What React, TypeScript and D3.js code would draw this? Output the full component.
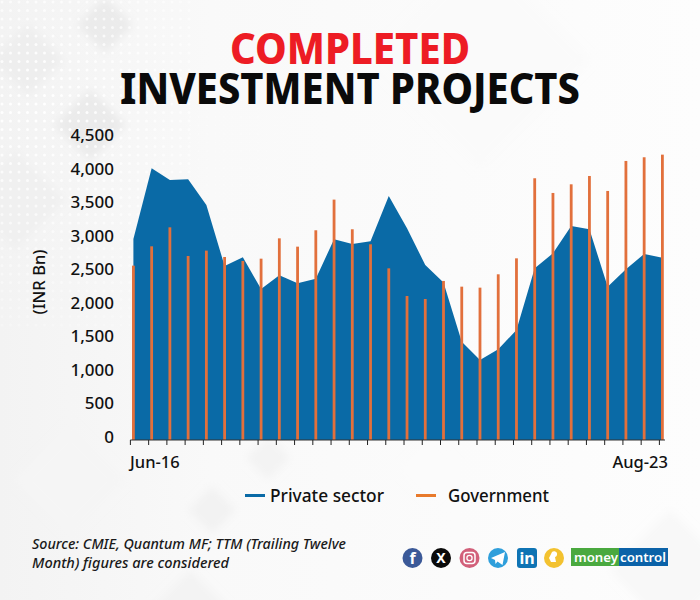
import React from "react";
import * as d3 from "d3";

const titleTop = "COMPLETED";
const titleBottom = "INVESTMENT PROJECTS";
const yTicks = [0, 500, 1000, 1500, 2000, 2500, 3000, 3500, 4000, 4500];
const periods = [
  "Jun-16","Sep-16","Dec-16","Mar-17","Jun-17","Sep-17","Dec-17","Mar-18","Jun-18","Sep-18",
  "Dec-18","Mar-19","Jun-19","Sep-19","Dec-19","Mar-20","Jun-20","Sep-20","Dec-20","Mar-21",
  "Jun-21","Sep-21","Dec-21","Mar-22","Jun-22","Sep-22","Dec-22","Mar-23","Jun-23","Aug-23",
];
const privateSector = [
  2995,4049,3875,3885,3502,2593,2722,2250,2454,2335,
  2404,2990,2921,2961,3636,3154,2608,2345,1465,1192,
  1351,1639,2558,2782,3189,3140,2285,2543,2772,2717,
];
const government = [
  2598,2886,3169,2742,2822,2727,2668,2702,3005,2881,
  3125,3582,3140,2916,2558,2146,2101,2370,2285,2270,
  2469,2707,3900,3681,3810,3934,3711,4158,4213,4252,
];
const sourceLines = [
  "Source: CMIE, Quantum MF; TTM (Trailing Twelve",
  "Month) figures are considered",
];
const bgDiamonds: [number, number, number, string][] = [
  [105, 25, 28, "#ebebeb"], [28, 60, 36, "#eeeeee"], [90, 125, 36, "#ebebeb"], [15, 200, 50, "#f0f0f0"],
  [70, 480, 55, "#f5f5f5"], [212, 510, 24, "#f2f2f2"], [268, 458, 22, "#f3f3f3"], [190, 610, 40, "#f3f3f3"],
  [480, 60, 110, "#fafafa"], [430, 470, 30, "#fbfbfb"], [670, 570, 60, "#f8f8f8"],
];

const FONT = "'Noto Sans', 'Open Sans', sans-serif";
const BLUE = "#0a6aa6";
const ORANGE = "#e2703c";

export default function App() {
  const x = d3.scalePoint<string>().domain(periods).range([133.4, 662.4]);
  const y = d3.scaleLinear().domain([0, 4500]).range([440, 138]);
  const area = d3.area<number>()
    .x((_, i) => x(periods[i]) as number)
    .y0(y(0))
    .y1((d) => y(d));
  const tickOffset = -3;

  const dots: [number, number][] = [];
  d3.range(0, 190, 8.5).forEach((a) => d3.range(0, 330, 8.5).forEach((b) => dots.push([a, b])));

  return (
    <svg width={700} height={600} viewBox="0 0 700 600" style={{ position: "absolute", left: 0, top: 0 }}>
      <defs>
        <linearGradient id="bg" x1="0" y1="0" x2="1" y2="0">
          <stop offset="0" stopColor="#f3f3f3" />
          <stop offset="0.3" stopColor="#f9f9f9" />
          <stop offset="1" stopColor="#fdfdfd" />
        </linearGradient>
        <radialGradient id="fade" cx="0.1" cy="0.3" r="0.9">
          <stop offset="0" stopColor="#fff" stopOpacity="1" />
          <stop offset="1" stopColor="#fff" stopOpacity="0" />
        </radialGradient>
        <mask id="dotMask">
          <rect width={400} height={340} fill="url(#fade)" />
        </mask>
        <filter id="soft" x="-20%" y="-20%" width="140%" height="140%">
          <feGaussianBlur stdDeviation="4" />
        </filter>
      </defs>
      <rect width={700} height={600} fill="url(#bg)" />
      <g filter="url(#soft)">
        {bgDiamonds.map(([cx, cy, r, c], i) => (
          <path key={i} d={`M${cx - r},${cy}L${cx},${cy - r}L${cx + r},${cy}L${cx},${cy + r}Z`} fill={c} />
        ))}
      </g>
      <g mask="url(#dotMask)" fill="#ffffff">
        {dots.map(([a, b], i) => <circle key={i} cx={a + 2} cy={b + 2} r={1.5} />)}
        {d3.range(190, 400, 8.5).flatMap((a) => d3.range(100, 300, 8.5).map((b) => (
          <circle key={`${a}-${b}`} cx={a} cy={b} r={1} opacity={0.6} />
        )))}
      </g>

      <text x={350} y={64} textAnchor="middle" fontFamily={FONT} fontWeight={800} fontSize={42} fill="#ed1c24"
        textLength={240} lengthAdjust="spacingAndGlyphs">{titleTop}</text>
      <text x={350} y={104} textAnchor="middle" fontFamily={FONT} fontWeight={800} fontSize={42} fill="#0a0a0a"
        textLength={460} lengthAdjust="spacingAndGlyphs">{titleBottom}</text>

      <path d={area(privateSector) as string} fill={BLUE} />
      {government.map((v, i) => (
        <rect key={periods[i]} x={(x(periods[i]) as number) - 1.4} y={y(v)} width={2.8} height={y(0) - y(v)} fill={ORANGE} />
      ))}

      <line x1={130.3} x2={665} y1={y(0)} y2={y(0)} stroke="#333" strokeWidth={1} />
      {periods.map((p) => {
        const tx = (x(p) as number) + tickOffset;
        return <line key={p} x1={tx} x2={tx} y1={y(0)} y2={y(0) + 5} stroke="#222" strokeWidth={1} />;
      })}

      {yTicks.map((t) => (
        <text key={t} x={114} y={y(t) + 3} textAnchor="end" fontFamily={FONT} fontWeight={500} fontSize={17} fill="#111">
          {d3.format(",")(t)}
        </text>
      ))}
      <text transform="translate(41,282) rotate(-90)" textAnchor="middle" dominantBaseline="middle" fontFamily={FONT}
        fontWeight={500} fontSize={16.5} fill="#111" textLength={65} lengthAdjust="spacingAndGlyphs">(INR Bn)</text>

      <text x={130} y={468} fontFamily={FONT} fontWeight={500} fontSize={16.5} fill="#111">{periods[0]}</text>
      <text x={668} y={468} textAnchor="end" fontFamily={FONT} fontWeight={500} fontSize={16.5} fill="#111">{periods[periods.length - 1]}</text>

      <line x1={245} x2={265} y1={495.5} y2={495.5} stroke={BLUE} strokeWidth={3} />
      <text x={270} y={502} fontFamily={FONT} fontWeight={500} fontSize={17.5} fill="#111" textLength={114} lengthAdjust="spacingAndGlyphs">Private sector</text>
      <line x1={416} x2={436} y1={495.5} y2={495.5} stroke="#e87a2c" strokeWidth={3} />
      <text x={448} y={502} fontFamily={FONT} fontWeight={500} fontSize={17.5} fill="#111" textLength={101} lengthAdjust="spacingAndGlyphs">Government</text>

      {sourceLines.map((l, i) => (
        <text key={i} x={32} y={549 + i * 19} fontFamily={FONT} fontStyle="italic" fontWeight={500} fontSize={14} fill="#1a1a1a"
          textLength={i === 0 ? 314 : 197} lengthAdjust="spacingAndGlyphs">{l}</text>
      ))}

      <g fontFamily={FONT}>
        <circle cx={412.5} cy={558} r={10} fill="#3b5998" />
        <text x={412.5} y={564} textAnchor="middle" fontSize={16} fontWeight={700} fill="#fff">f</text>
        <circle cx={441} cy={558} r={10} fill="#0a0a0a" />
        <text x={441} y={563} textAnchor="middle" fontSize={14} fontWeight={700} fill="#fff">X</text>
        <circle cx={469.5} cy={558} r={10} fill="#d2607a" />
        <rect x={464} y={552.5} width={11} height={11} rx={3} fill="none" stroke="#fff" strokeWidth={1.5} />
        <circle cx={469.5} cy={558} r={2.6} fill="none" stroke="#fff" strokeWidth={1.3} />
        <circle cx={498} cy={558} r={10} fill="#2f9fdb" />
        <path d="M491,558L505,552L502.5,565L497.5,561.5L495.5,564L495,560Z" fill="#fff" />
        <rect x={517} y={548} width={20} height={20} rx={3} fill="#0f74b4" />
        <text x={527} y={564} textAnchor="middle" fontSize={16} fontWeight={700} fill="#fff">in</text>
        <circle cx={554} cy={558} r={10} fill="#f3c230" />
        <path d="M552,552a3,3 0 1,1 3,5l1,5h-5l-2,-4z" fill="#fff" />
        <rect x={571} y={548} width={49} height={18} fill="#4aa93f" />
        <rect x={619} y={548} width={49} height={18} fill="#0b62a8" />
        <text x={574} y={561.5} fontSize={12} fontWeight={600} fill="#fff" textLength={44} lengthAdjust="spacingAndGlyphs">money</text>
        <text x={620} y={561.5} fontSize={12} fontWeight={600} fill="#fff" textLength={46} lengthAdjust="spacingAndGlyphs">control</text>
      </g>
    </svg>
  );
}
